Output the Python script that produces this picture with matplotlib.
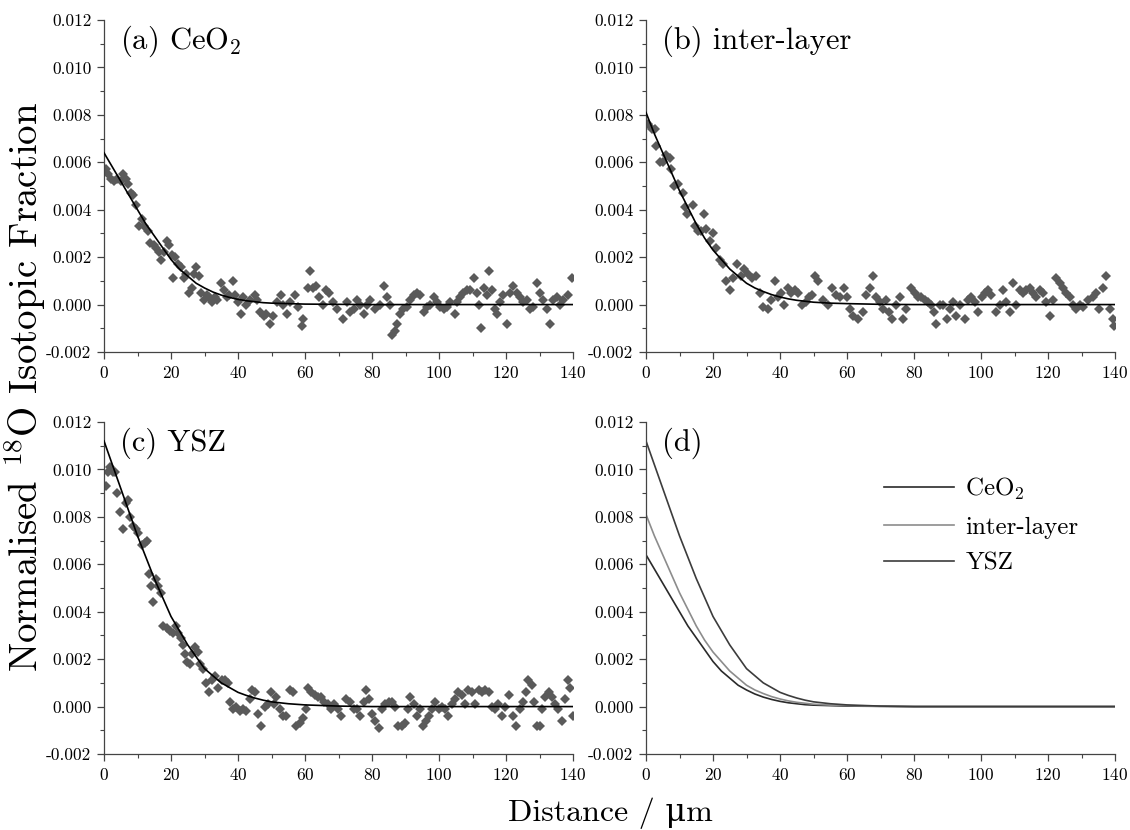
import numpy as np
import matplotlib
matplotlib.use("Agg")
import matplotlib.pyplot as plt
from matplotlib.ticker import MultipleLocator, FormatStrFormatter

plt.rcParams['font.family'] = ['cmr10', 'DejaVu Serif']
plt.rcParams['mathtext.fontset'] = 'cm'
plt.rcParams['axes.unicode_minus'] = False
plt.rcParams['axes.formatter.use_mathtext'] = True

# measured points, y in units of 1e-3
ceo2_pts = [(0.5, 5.7), (1.2, 5.5), (2.0, 5.3), (3.0, 5.2), (4.0, 5.3), (5.0, 5.2), (5.7, 5.5), (6.5, 5.3),
            (7.2, 5.1), (8.0, 4.7), (8.8, 4.6), (9.7, 4.2), (10.4, 3.3), (11.2, 3.6), (12.0, 3.3), (13.0, 3.1),
            (13.8, 2.6), (14.8, 2.5), (15.6, 2.4), (16.3, 2.2), (17.1, 1.9), (18.0, 2.2), (18.8, 2.7), (19.5, 2.5),
            (20.3, 2.1), (20.6, 1.1), (21.3, 2.0), (22.1, 1.7), (23.0, 1.6), (23.8, 1.1), (24.6, 1.3), (25.4, 0.5),
            (26.2, 0.7), (27.0, 1.3), (27.6, 1.6), (28.3, 1.2), (29.0, 0.5), (29.8, 0.2), (30.6, 0.4), (31.4, 0.3),
            (32.2, 0.1), (33.0, 0.3), (33.8, 0.2), (35.0, 0.9), (35.8, 0.6), (36.6, 0.3), (37.4, 0.4), (38.5, 1.0),
            (39.2, 0.4), (40.0, 0.1), (40.8, -0.4), (41.6, 0.3), (42.5, 0.0), (43.5, 0.2), (45.0, 0.4), (45.8, 0.2),
            (46.7, -0.3), (47.7, -0.5), (48.5, -0.4), (49.5, -0.8), (50.5, -0.5), (51.6, 0.1), (52.7, 0.4),
            (53.5, 0.0), (54.5, -0.4), (55.5, 0.1), (57.0, 0.4), (58.0, -0.1), (59.0, -0.9), (59.5, -0.6),
            (60.8, 0.7), (61.5, 1.4), (62.3, 0.7), (63.3, 0.8), (64.3, 0.3), (65.3, 0.0), (66.3, 0.6), (67.3, 0.5),
            (68.3, 0.1), (69.6, -0.2), (71.3, -0.6), (72.6, 0.1), (73.5, -0.3), (74.5, -0.2), (75.5, 0.2),
            (76.5, 0.0), (77.5, -0.4), (78.5, 0.0), (79.5, 0.2), (81.0, -0.2), (82.5, 0.0), (83.5, 0.8), (84.5, 0.3),
            (85.3, 0.0), (86.0, -1.3), (87.0, -1.1), (87.4, -0.8), (88.4, -0.4), (89.4, -0.2), (90.4, -0.1),
            (91.4, 0.2), (92.4, 0.4), (93.4, 0.5), (94.4, 0.4), (95.4, -0.3), (96.4, -0.1), (97.4, 0.0), (98.4, 0.3),
            (99.4, 0.1), (100.4, -0.1), (101.4, -0.2), (102.3, -0.1), (103.3, 0.1), (104.8, -0.4), (105.3, 0.1),
            (106.3, 0.3), (107.3, 0.5), (108.3, 0.6), (109.3, 0.6), (110.3, 1.1), (111.3, 0.5), (111.8, 0.0),
            (112.5, -1.0), (113.3, 0.7), (114.3, 0.4), (115.0, 1.4), (115.7, 0.6), (116.7, -0.2), (117.2, -0.4),
            (118.2, 0.1), (119.2, 0.4), (120.2, -0.8), (121.2, 0.5), (122.2, 0.8), (123.2, 0.5), (124.2, 0.3),
            (125.2, 0.1), (126.2, 0.2), (127.2, -0.2), (128.2, -0.1), (129.2, 0.9), (130.1, 0.5), (131.1, 0.2),
            (132.1, -0.2), (133.1, -0.8), (134.1, 0.2), (135.1, 0.3), (136.1, 0.0), (137.1, 0.2), (138.6, 0.4),
            (139.6, 1.1)]

inter_pts = [(0.7, 7.6), (1.7, 7.4), (2.7, 7.4), (3.0, 6.7), (4.2, 6.0), (5.0, 6.0), (6.1, 6.3), (7.1, 6.2),
             (7.6, 5.7), (8.3, 5.0), (9.6, 5.1), (11.1, 4.7), (11.6, 4.1), (12.3, 3.8), (13.9, 4.2), (14.6, 3.3),
             (15.5, 3.1), (16.5, 3.1), (17.3, 3.8), (18.0, 3.2), (19.0, 2.7), (20.0, 3.0), (21.0, 2.4), (22.0, 1.9),
             (23.0, 1.7), (24.0, 1.0), (25.0, 0.6), (26.0, 1.1), (27.2, 1.7), (28.4, 1.2), (29.4, 1.5), (30.4, 1.3),
             (31.7, 1.1), (32.9, 1.2), (34.1, 0.5), (34.9, -0.1), (36.3, -0.2), (37.3, 0.2), (38.6, 1.0),
             (39.3, 0.3), (40.3, 0.5), (41.3, 0.0), (42.3, 0.7), (43.3, 0.5), (44.6, 0.6), (45.5, 0.5), (46.7, 0.0),
             (47.7, 0.1), (48.7, 0.3), (49.5, 0.4), (50.5, 1.2), (51.2, 1.0), (52.7, 0.2), (54.2, 0.0), (55.6, 0.7),
             (56.6, 0.4), (57.8, 0.3), (59.1, 0.7), (60.1, 0.3), (60.8, -0.2), (61.8, -0.5), (63.3, -0.6),
             (64.8, -0.3), (65.8, 0.4), (66.8, 0.7), (67.8, 1.2), (68.6, 0.3), (69.8, 0.1), (70.7, -0.2),
             (71.7, 0.2), (72.5, -0.3), (73.5, -0.6), (74.7, 0.0), (75.7, 0.3), (76.7, -0.6), (77.7, -0.2),
             (79.2, 0.7), (80.2, 0.5), (81.2, 0.3), (82.2, 0.3), (83.2, 0.2), (84.2, 0.1), (85.2, 0.0), (85.9, -0.3),
             (86.7, -0.8), (87.7, 0.0), (88.7, 0.0), (89.9, -0.6), (90.6, -0.2), (91.6, 0.1), (92.6, -0.5),
             (93.6, 0.0), (95.1, -0.6), (96.1, 0.2), (97.1, 0.3), (98.1, 0.1), (99.2, -0.3), (100.2, 0.3),
             (101.2, 0.5), (102.1, 0.6), (103.1, 0.4), (104.6, -0.3), (105.6, 0.0), (106.6, 0.6), (107.6, 0.1),
             (108.6, -0.3), (109.6, 0.9), (110.5, 0.0), (111.5, 0.6), (112.5, 0.5), (113.5, 0.6), (114.5, 0.7),
             (115.5, 0.5), (116.5, 0.3), (117.5, 0.6), (118.5, 0.5), (119.5, 0.1), (120.5, -0.5), (121.5, 0.2),
             (122.5, 1.1), (123.5, 0.9), (124.5, 0.7), (125.5, 0.5), (126.5, 0.3), (127.5, 0.0), (128.5, -0.2),
             (129.5, 0.0), (130.4, -0.1), (132.0, 0.2), (133.5, 0.3), (134.4, 0.5), (135.2, -0.2), (136.4, 0.7),
             (137.2, 1.2), (138.4, -0.2), (139.4, -0.6), (139.7, -0.9)]

ysz_pts = [(0.6, 9.3), (1.3, 9.9), (1.8, 10.1), (2.6, 9.9), (3.3, 9.9), (4.0, 9.0), (4.8, 8.2), (5.6, 7.5),
           (6.6, 8.6), (7.2, 8.7), (7.7, 8.0), (8.7, 7.6), (9.5, 7.5), (10.2, 7.3), (11.2, 6.8), (12.2, 6.9),
           (12.9, 7.0), (13.5, 5.6), (14.0, 5.1), (14.7, 4.4), (15.5, 5.4), (16.2, 5.1), (17.0, 4.8), (17.7, 3.4),
           (18.7, 3.3), (19.7, 3.2), (20.5, 3.1), (21.5, 3.4), (22.1, 3.1), (22.9, 2.9), (23.6, 2.6), (24.1, 2.2),
           (24.8, 1.9), (25.6, 1.8), (26.4, 2.2), (27.1, 2.5), (28.1, 2.3), (28.8, 1.8), (29.6, 1.6), (30.4, 1.0),
           (31.4, 0.6), (32.1, 1.1), (33.1, 1.3), (34.1, 0.8), (35.1, 1.1), (36.0, 1.1), (37.0, 1.0), (37.7, 0.2),
           (38.5, -0.1), (39.5, 0.0), (40.5, -0.2), (41.5, -0.1), (42.5, -0.2), (43.5, 0.3), (44.3, 0.7),
           (45.0, 0.6), (46.0, -0.3), (47.0, -0.8), (48.0, 0.0), (49.0, 0.1), (49.9, 0.6), (50.6, 0.1), (51.4, 0.4),
           (52.4, -0.1), (53.4, -0.4), (54.4, -0.4), (55.4, 0.7), (56.4, 0.6), (57.4, -0.8), (58.4, -0.7),
           (59.4, -0.5), (60.2, -0.1), (60.9, 0.8), (61.9, 0.6), (62.9, 0.5), (63.9, 0.4), (64.8, 0.4), (65.8, 0.2),
           (66.8, 0.1), (67.8, -0.1), (68.8, 0.1), (69.8, -0.1), (70.8, -0.4), (72.3, 0.3), (73.5, 0.2),
           (74.5, -0.1), (75.5, -0.1), (76.5, -0.4), (77.5, 0.2), (78.3, 0.7), (79.0, 0.3), (80.0, -0.3),
           (81.0, -0.6), (82.0, -0.9), (83.0, -0.1), (84.0, 0.1), (85.0, 0.2), (86.0, 0.2), (87.0, 0.0),
           (87.9, -0.8), (88.9, -0.8), (89.9, -0.7), (90.6, -0.1), (91.4, 0.4), (92.4, 0.1), (93.4, -0.4),
           (94.4, -0.1), (95.2, -0.8), (96.2, -0.6), (96.9, -0.4), (97.9, -0.1), (98.9, 0.2), (99.9, -0.1),
           (100.9, 0.0), (101.8, -0.1), (102.8, -0.4), (103.8, 0.1), (104.8, 0.3), (105.8, 0.6), (106.8, 0.5),
           (107.8, 0.1), (108.8, 0.7), (109.8, 0.6), (110.8, 0.1), (111.8, 0.7), (112.8, 0.6), (113.8, 0.7),
           (114.8, 0.6), (115.8, 0.0), (116.7, -0.1), (117.7, 0.1), (118.7, -0.4), (119.7, 0.0), (121.0, 0.5),
           (122.0, -0.4), (123.0, -0.8), (124.2, -0.1), (125.2, 0.2), (126.0, 0.6), (126.7, 1.1), (127.7, 0.9),
           (128.4, 0.2), (129.2, -0.8), (130.0, -0.8), (130.7, -0.1), (131.7, 0.4), (132.7, 0.6), (133.7, 0.4),
           (134.6, 0.1), (135.6, -0.1), (136.6, -0.6), (137.6, 0.3), (138.4, 1.1), (139.1, 0.8), (139.9, -0.4)]

# fitted profiles, y in units of 1e-3
fit_x = [0, 2.5, 5, 7.5, 10, 12.5, 15, 17.5, 20, 22.5, 25, 27.5, 30, 32.5, 35, 37.5, 40, 42.5, 45, 47.5,
         50, 55, 60, 70, 80, 140]
ceo2_fit = [6.4, 5.8, 5.2, 4.6, 4.0, 3.4, 2.9, 2.4, 1.9, 1.5, 1.2, 0.9, 0.7, 0.53, 0.4, 0.3, 0.22, 0.16, 0.12,
            0.08, 0.06, 0.04, 0.02, 0.01, 0.0, 0.0]
inter_fit = [8.1, 7.2, 6.4, 5.6, 4.8, 4.1, 3.4, 2.8, 2.3, 1.9, 1.5, 1.2, 0.9, 0.7, 0.55, 0.42, 0.32, 0.24, 0.18,
             0.14, 0.1, 0.06, 0.04, 0.01, 0.0, 0.0]
ysz_fit = [11.2, 10.2, 9.2, 8.2, 7.2, 6.3, 5.4, 4.6, 3.8, 3.2, 2.6, 2.1, 1.6, 1.3, 1.0, 0.8, 0.6, 0.47, 0.36,
           0.27, 0.2, 0.12, 0.07, 0.02, 0.0, 0.0]

panel_labels = ['(a) CeO$_2$', '(b) inter-layer', '(c) YSZ', '(d)']
legend_names = ['CeO$_2$', 'inter-layer', 'YSZ']

W, H = 1130, 830
fig = plt.figure(figsize=(W / 100, H / 100), dpi=100)


def make_axes(left, top):
    ax = fig.add_axes([left / W, 1 - (top + 332) / H, 469 / W, 332 / H])
    ax.set_xlim(0, 140)
    ax.set_ylim(-0.002, 0.012)
    ax.xaxis.set_major_locator(MultipleLocator(20))
    ax.xaxis.set_minor_locator(MultipleLocator(10))
    ax.yaxis.set_major_locator(MultipleLocator(0.002))
    ax.yaxis.set_minor_locator(MultipleLocator(0.001))
    ax.yaxis.set_major_formatter(FormatStrFormatter('%.3f'))
    for s in ['top', 'right']:
        ax.spines[s].set_visible(False)
    for s in ['left', 'bottom']:
        ax.spines[s].set_color('#444444')
        ax.spines[s].set_linewidth(0.9)
    ax.tick_params(which='major', direction='out', length=5, width=0.9, color='#444444',
                   labelsize=12.5, pad=4)
    ax.tick_params(which='minor', direction='out', length=3, width=0.8, color='#444444')
    return ax


axes = [make_axes(104, 20), make_axes(646, 20), make_axes(104, 422), make_axes(646, 422)]

fx = np.array(fit_x)
for ax, pts, fit in zip(axes[:3], [ceo2_pts, inter_pts, ysz_pts], [ceo2_fit, inter_fit, ysz_fit]):
    px, py = np.array(pts).T
    ax.plot(px, py * 1e-3, 'D', color='#5a5a5a', ms=5, mew=0, zorder=2)
    ax.plot(fx, np.array(fit) * 1e-3, color='black', lw=1.2, zorder=3)

ax = axes[3]
ax.plot(fx, np.array(ceo2_fit) * 1e-3, color='#2a2a2a', lw=1.2, label=legend_names[0])
ax.plot(fx, np.array(inter_fit) * 1e-3, color='#8c8c8c', lw=1.2, label=legend_names[1])
ax.plot(fx, np.array(ysz_fit) * 1e-3, color='#3c3c3c', lw=1.2, label=legend_names[2])
ax.legend(loc='upper left', bbox_to_anchor=(0.46, 0.905), frameon=False, fontsize=18,
          handlelength=2.8, labelspacing=0.55, handletextpad=0.45)

for ax, lab in zip(axes, panel_labels):
    ax.text(0.035, 0.912, lab, transform=ax.transAxes, fontsize=22, va='baseline', ha='left')

fig.text(0.022, 0.534, 'Normalised $^{18}$O Isotopic Fraction', rotation=90, fontsize=28,
         ha='center', va='center')
fig.text(0.54, 0.02, 'Distance / \u03bcm', fontsize=23, ha='center', va='center')

fig.savefig('out.png', dpi=100)
